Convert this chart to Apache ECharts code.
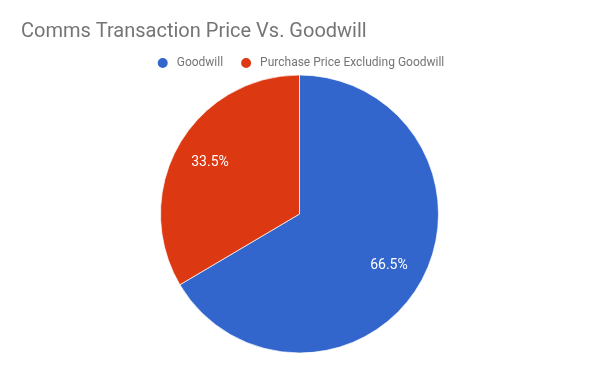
<!DOCTYPE html>
<html><head><meta charset="utf-8">
<script src="https://cdn.jsdelivr.net/npm/echarts@6/dist/echarts.min.js"></script>
<style>html,body{margin:0;padding:0;background:#fff}#c{width:600px;height:371px}</style>
</head><body><div id="c"></div>
<script>
const categories = ['Goodwill', 'Purchase Price Excluding Goodwill'];
const values = [66.5, 33.5];
const colors = ['#3366cc', '#dc3912'];
const titleText = 'Comms Transaction Price Vs. Goodwill';

const data = categories.map((n, i) => ({ name: n, value: values[i] }));
const chart = echarts.init(document.getElementById('c'), null, { renderer: 'canvas' });
chart.setOption({
  animation: false,
  color: colors,
  title: {
    text: titleText, left: 16, top: 17,
    textStyle: { fontFamily: 'Roboto', fontSize: 20, fontWeight: 'normal', color: '#757575' }
  },
  legend: {
    data: categories, left: 'center', top: 51,
    icon: 'circle', itemWidth: 12, itemHeight: 12, itemGap: 16,
    textStyle: { fontFamily: 'Roboto', fontSize: 12, color: '#757575', padding: [0, 0, 0, 3] }
  },
  series: [{
    type: 'pie', center: [299.5, 214], radius: 139, startAngle: 90, clockwise: true,
    data: data, label: { show: false }, labelLine: { show: false },
    itemStyle: { borderColor: '#fff', borderWidth: 0.7 }, silent: true
  }, {
    type: 'pie', center: [299.5, 214], radius: [61, 139], startAngle: 90, clockwise: true,
    data: data, silent: true, z: 3,
    itemStyle: { color: 'rgba(0,0,0,0)' },
    label: { show: true, position: 'inside', formatter: p => p.value.toFixed(1) + '%',
      fontFamily: 'Roboto', fontSize: 14, color: '#ffffff' },
    labelLine: { show: false }
  }]
});
</script></body></html>
